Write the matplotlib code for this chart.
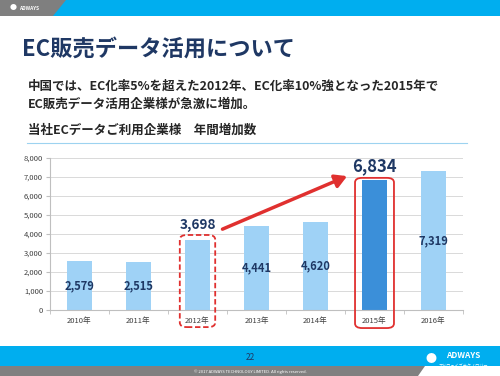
import matplotlib.pyplot as plt
from matplotlib.patches import Rectangle, Polygon, FancyBboxPatch, FancyArrowPatch

plt.rcParams['font.family'] = ['Noto Sans CJK JP', 'DejaVu Sans']

years = ['2010年', '2011年', '2012年', '2013年', '2014年', '2015年', '2016年']
counts = [2579, 2515, 3698, 4441, 4620, 6834, 7319]
y_ticks = [0, 1000, 2000, 3000, 4000, 5000, 6000, 7000, 8000]

title = 'EC販売データ活用について'
lead1 = '中国では、EC化率5%を超えた2012年、EC化率10%強となった2015年で'
lead2 = 'EC販売データ活用企業様が急激に増加。'
chart_title = '当社ECデータご利用企業様　年間増加数'

navy = '#1f3864'
sky = '#00aeef'
red = '#e0302f'

W, H = 500, 376
fig = plt.figure(figsize=(5, 3.76), dpi=100)
fig.patch.set_facecolor('white')

def fx(x):
    return x / W

def fy(y):
    return 1 - y / H

# header band
fig.patches.append(Rectangle((0, fy(16)), 1, 16 / H, transform=fig.transFigure,
                             facecolor=sky, edgecolor='none'))
fig.patches.append(Polygon([(0, fy(0)), (fx(66), fy(0)), (fx(53), fy(16)), (0, fy(16))],
                           closed=True, transform=fig.transFigure,
                           facecolor='#7f7f7f', edgecolor='none'))
fig.text(fx(13), fy(8), '●', color='white', fontsize=5, va='center', ha='center')
fig.text(fx(19), fy(8), 'ADWAYS', color='white', fontsize=3.5, fontweight='bold', va='center')

# footer band
fig.patches.append(Rectangle((0, fy(366)), 1, 20 / H, transform=fig.transFigure,
                             facecolor=sky, edgecolor='none'))
fig.patches.append(Polygon([(0, fy(366)), (fx(425), fy(366)), (fx(418), fy(376)), (0, fy(376))],
                           closed=True, transform=fig.transFigure,
                           facecolor='#808080', edgecolor='none'))
fig.text(fx(250), fy(357), '22', color=navy, fontsize=6, ha='center', va='center')
fig.text(fx(250), fy(371.5), '© 2017 ADWAYS TECHNOLOGY LIMITED. All rights reserved.',
         color='white', fontsize=3, ha='center', va='center')
fig.text(fx(431), fy(359), '●', color='white', fontsize=8, ha='center', va='center')
fig.text(fx(463), fy(356), 'ADWAYS', color='white', fontsize=6, fontweight='bold',
         ha='center', va='center')
fig.text(fx(463), fy(366), 'アドウェイズテクノロジー', color='white', fontsize=3,
         ha='center', va='center')

# titles
fig.text(fx(22), fy(49), title, color=navy, fontsize=16, fontweight='bold', va='center')
fig.text(fx(28), fy(86), lead1, color='#262626', fontsize=9.0, fontweight='bold', va='center')
fig.text(fx(28), fy(104), lead2, color='#262626', fontsize=9.0, fontweight='bold', va='center')
fig.text(fx(28), fy(130), chart_title, color='#262626', fontsize=9, fontweight='bold', va='center')
fig.lines.append(plt.Line2D([fx(27), fx(467)], [fy(143), fy(143)], transform=fig.transFigure,
                            color='#9dd3f0', linewidth=0.8))

# chart
ax = fig.add_axes([fx(50), fy(310), 413 / W, 152 / H])
x = list(range(len(years)))
colors = ['#3b8fd9' if y == '2015年' else '#9fd2f6' for y in years]
ax.bar(x, counts, width=0.41, color=colors, zorder=2)
ax.set_xlim(-0.5, len(years) - 0.5)
ax.set_ylim(0, 8000)
ax.set_yticks(y_ticks)
ax.set_yticklabels([f'{v:,}' for v in y_ticks], fontsize=5.5, color='#404040')
ax.set_xticks(x)
ax.set_xticklabels(years, fontsize=5.5, color='#404040')
ax.set_xticks([i + 0.5 for i in range(-1, len(years))], minor=True)
ax.tick_params(axis='x', which='major', length=0, pad=5)
ax.tick_params(axis='x', which='minor', length=3, color='#bfbfbf')
ax.tick_params(axis='y', length=3, color='#bfbfbf', pad=2)
ax.grid(axis='y', color='#d9d9d9', linewidth=0.7, zorder=0)
for s in ['top', 'right']:
    ax.spines[s].set_visible(False)
for s in ['left', 'bottom']:
    ax.spines[s].set_color('#bfbfbf')
    ax.spines[s].set_linewidth(0.8)
ax.set_facecolor('none')

for i, v in enumerate(counts):
    if years[i] == '2015年':
        ax.text(i, v + 750, f'{v:,}', ha='center', va='center', color=navy,
                fontsize=12, fontweight='bold')
    elif years[i] == '2012年':
        ax.text(i, v + 750, f'{v:,}', ha='center', va='center', color=navy,
                fontsize=9.8, fontweight='bold')
    else:
        ax.text(i, v / 2, f'{v:,}', ha='center', va='center', color=navy,
                fontsize=8, fontweight='bold')

# highlight boxes
i12 = years.index('2012年')
i15 = years.index('2015年')
ax.add_patch(FancyBboxPatch((i12 - 0.3, -900), 0.6, counts[i12] + 250 + 900,
                            boxstyle='round,pad=0,rounding_size=0.12', mutation_aspect=2000,
                            fill=False, edgecolor=red, linestyle=(0, (3, 1.5)),
                            linewidth=1.3, clip_on=False, zorder=3))
ax.add_patch(FancyBboxPatch((i15 - 0.33, -950), 0.66, counts[i15] + 120 + 950,
                            boxstyle='round,pad=0,rounding_size=0.12', mutation_aspect=2000,
                            fill=False, edgecolor=red, linewidth=1.3, clip_on=False, zorder=3))

# arrow
ax.add_patch(FancyArrowPatch((i12 + 0.38, counts[i12] + 500), (i15 - 0.42, counts[i15] + 270),
                             arrowstyle='-|>,head_length=7,head_width=4', color=red,
                             linewidth=2.5, mutation_scale=1, clip_on=False, zorder=4))

fig.savefig('out.png', dpi=100)
